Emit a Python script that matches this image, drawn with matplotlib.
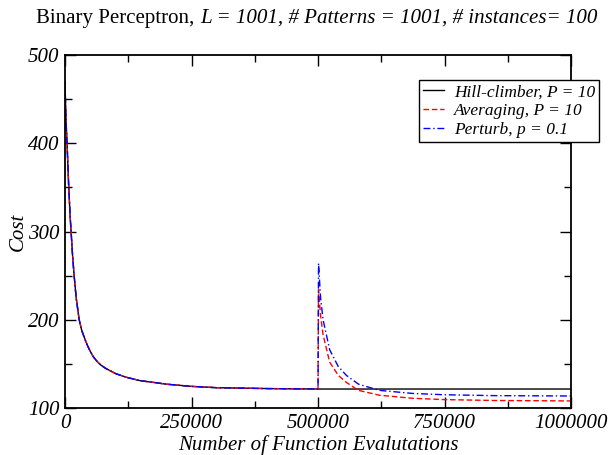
import matplotlib.pyplot as plt
from matplotlib.ticker import MultipleLocator, FormatStrFormatter
import numpy as np

plt.rcParams['font.family'] = ['Liberation Serif', 'DejaVu Serif']

# first phase, shared by all three runs
evals_a = [0, 1000, 2000, 4000, 7000, 10000, 12000, 15000, 18000, 22000, 28000, 33000,
           40000, 45000, 50000, 56000, 63000, 70000, 80000, 90000, 100000, 120000,
           148000, 175000, 200000, 250000, 300000, 400000, 499000]
cost_a = [470, 445, 425, 400, 355, 318, 300, 272, 250, 225, 200, 188,
          177, 170, 164, 158, 153, 149, 145, 142, 139, 135,
          131, 129, 127, 124.5, 123, 122, 121.5]

# second phase (after restart at 500000)
evals_b = [500000, 501000, 505000, 510000, 523000, 540000, 556000, 580000, 621000, 687000,
           750000, 850000, 1000000]
hill_b = [121.5, 121.5, 121.5, 121.5, 121.5, 121.5, 121.5, 121.5, 121.5, 121.5, 121.5, 121.5, 121.5]
avg_b = [121.5, 234, 205, 183, 152, 137, 129, 120, 114.5, 111, 109.5, 108.5, 108]
pert_b = [121.5, 264, 225, 200, 166, 147, 137, 127, 120, 116.5, 115, 114, 113.6]

x_hill = evals_a + evals_b
y_hill = cost_a + hill_b
x_avg = evals_a + evals_b
y_avg = cost_a + avg_b
x_pert = evals_a + evals_b
y_pert = cost_a + pert_b

fig = plt.figure(figsize=(6.1, 4.55), dpi=100)
ax = fig.add_axes([0.1066, 0.1033, 0.8295, 0.7758])

ax.plot(x_hill, y_hill, color='black', lw=1.0, label='Hill-climber, P = 10')
ax.plot(x_avg, y_avg, color='red', lw=1.0, ls=(0, (4, 2)), label='Averaging, P = 10')
ax.plot(x_pert, y_pert, color='blue', lw=1.0, ls=(0, (5, 2, 1, 2)), label='Perturb, p = 0.1')

ax.set_xlim(0, 1000000)
ax.set_ylim(100, 500)
ax.xaxis.set_major_locator(MultipleLocator(250000))
ax.xaxis.set_minor_locator(MultipleLocator(125000))
ax.xaxis.set_major_formatter(FormatStrFormatter('%d'))
ax.yaxis.set_major_locator(MultipleLocator(100))
ax.yaxis.set_minor_locator(MultipleLocator(50))
ax.tick_params(which='both', direction='in', top=True, right=True, width=1.0)
ax.tick_params(which='major', length=8, labelsize=15)
ax.tick_params(which='minor', length=5)
ax.tick_params(axis='x', pad=4.5)
ax.tick_params(axis='y', pad=4)
for lab in ax.get_xticklabels() + ax.get_yticklabels():
    lab.set_fontstyle('italic')
for s in ax.spines.values():
    s.set_linewidth(1.3)

ax.set_xlabel('Number of Function Evalutations', fontsize=15, style='italic', labelpad=1)
ax.set_ylabel('Cost', fontsize=15, style='italic', labelpad=0)

fig.text(0.328, 0.960, 'Binary Perceptron, ', fontsize=15, ha='right', va='center')
fig.text(0.328, 0.960, 'L = 1001, # Patterns = 1001, # instances= 100', fontsize=15.1,
         ha='left', va='center', style='italic')

leg = ax.legend(loc='upper left', bbox_to_anchor=(0.6996, 0.929), borderaxespad=0,
                prop={'style': 'italic', 'size': 12.5}, frameon=True, fancybox=False,
                framealpha=1, edgecolor='black', handlelength=1.2, handletextpad=0.55,
                borderpad=0.25, labelspacing=0.15)
leg.get_frame().set_linewidth(1.0)

fig.savefig('out.png', dpi=100)
